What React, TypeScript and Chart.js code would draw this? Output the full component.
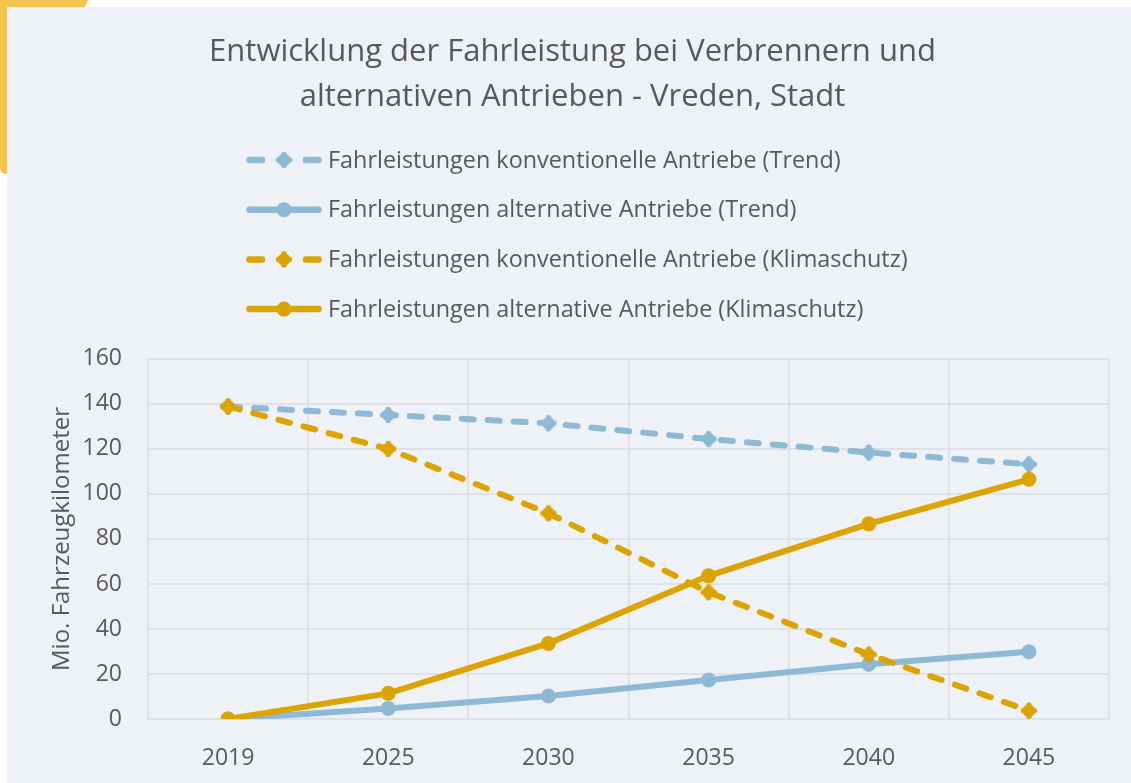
import React, { useEffect, useRef } from "react";
import { Chart, registerables } from "chart.js";

Chart.register(...registerables);

const years = ["2019", "2025", "2030", "2035", "2040", "2045"];
const trendConventional = [138.8, 135.1, 131.4, 124.4, 118.4, 113.2];
const trendAlternative = [0, 4.7, 10.2, 17.3, 24.3, 29.9];
const climateConventional = [138.9, 120.0, 91.4, 56.3, 28.7, 3.7];
const climateAlternative = [0, 11.4, 33.6, 63.6, 86.7, 106.5];

const seriesLabels = [
  "Fahrleistungen konventionelle Antriebe (Trend)",
  "Fahrleistungen alternative Antriebe (Trend)",
  "Fahrleistungen konventionelle Antriebe (Klimaschutz)",
  "Fahrleistungen alternative Antriebe (Klimaschutz)",
];
const titleLines = [
  "Entwicklung der Fahrleistung bei Verbrennern und",
  "alternativen Antrieben - Vreden, Stadt",
];
const yAxisTitle = "Mio. Fahrzeugkilometer";
const yMin = 0;
const yMax = 160;
const yStep = 20;

const BLUE = "#8db9d5";
const GOLD = "#dba400";
const TEXT = "#595959";
const GRID = "#dfe1e4";
const PANEL = "#eef1f5";
const FONT = "'Open Sans', 'Noto Sans', sans-serif";

function makePlus(color: string): HTMLCanvasElement {
  const c = document.createElement("canvas");
  c.width = 18;
  c.height = 18;
  const g = c.getContext("2d")!;
  g.strokeStyle = color;
  g.fillStyle = color;
  g.lineWidth = 5.5;
  g.lineCap = "round";
  g.beginPath();
  g.moveTo(9, 3.5);
  g.lineTo(9, 14.5);
  g.moveTo(3.5, 9);
  g.lineTo(14.5, 9);
  g.stroke();
  g.beginPath();
  g.arc(9, 9, 6.3, 0, Math.PI * 2);
  g.fill();
  return c;
}

const legendPlugin = {
  id: "stackedLegend",
  afterDraw(chart: any) {
    const ctx = chart.ctx;
    const x0 = 239;
    const sampleW = 76;
    const top = 153;
    const rowGap = 49.7;
    chart.data.datasets.forEach((ds: any, i: number) => {
      const y = top + i * rowGap;
      ctx.save();
      ctx.strokeStyle = ds.borderColor;
      ctx.fillStyle = ds.borderColor;
      ctx.lineWidth = 6.5;
      ctx.lineCap = "round";
      ctx.beginPath();
      if (ds.borderDash && ds.borderDash.length) {
        ctx.moveTo(x0 + 3.5, y);
        ctx.lineTo(x0 + 16, y);
        ctx.moveTo(x0 + 60, y);
        ctx.lineTo(x0 + sampleW - 3.5, y);
      } else {
        ctx.moveTo(x0 + 3.5, y);
        ctx.lineTo(x0 + sampleW - 3.5, y);
      }
      ctx.stroke();
      const cx = x0 + sampleW / 2;
      if (ds.pointStyle === "circle") {
        ctx.beginPath();
        ctx.arc(cx, y, 7.5, 0, Math.PI * 2);
        ctx.fill();
      } else {
        ctx.drawImage(ds.pointStyle, cx - 9, y - 9);
      }
      ctx.fillStyle = TEXT;
      ctx.font = `23.4px ${FONT}`;
      ctx.textBaseline = "middle";
      ctx.textAlign = "left";
      ctx.fillText(ds.label, x0 + sampleW + 6, y + 1);
      ctx.restore();
    });
  },
};

export default function App() {
  const canvasRef = useRef<HTMLCanvasElement | null>(null);

  useEffect(() => {
    if (!canvasRef.current) return;
    const plusBlue = makePlus(BLUE);
    const plusGold = makePlus(GOLD);
    const dash = [12, 14];
    const lineW = 6;
    const chart = new Chart(canvasRef.current, {
      type: "line",
      data: {
        labels: years,
        datasets: [
          {
            label: seriesLabels[0],
            data: trendConventional,
            borderColor: BLUE,
            backgroundColor: BLUE,
            borderWidth: lineW,
            borderDash: dash,
            borderCapStyle: "round",
            pointStyle: plusBlue as any,
            pointRadius: 9,
            order: 4,
          },
          {
            label: seriesLabels[1],
            data: trendAlternative,
            borderColor: BLUE,
            backgroundColor: BLUE,
            borderWidth: lineW,
            borderCapStyle: "round",
            pointStyle: "circle",
            pointRadius: 7.5,
            pointBorderWidth: 0,
            order: 3,
          },
          {
            label: seriesLabels[2],
            data: climateConventional,
            borderColor: GOLD,
            backgroundColor: GOLD,
            borderWidth: lineW,
            borderDash: dash,
            borderCapStyle: "round",
            pointStyle: plusGold as any,
            pointRadius: 9,
            order: 2,
          },
          {
            label: seriesLabels[3],
            data: climateAlternative,
            borderColor: GOLD,
            backgroundColor: GOLD,
            borderWidth: lineW,
            borderCapStyle: "round",
            pointStyle: "circle",
            pointRadius: 7.5,
            pointBorderWidth: 0,
            order: 1,
          },
        ],
      },
      options: {
        animation: false,
        responsive: false,
        layout: { padding: { left: 29, right: 29, top: 0, bottom: 15 } },
        plugins: {
          legend: { display: false },
          tooltip: { enabled: false },
          title: {
            display: true,
            text: titleLines,
            color: TEXT,
            font: { family: FONT, size: 31, weight: "normal", lineHeight: 1.45 },
            padding: { top: 23, bottom: 239 },
          },
        },
        scales: {
          x: {
            offset: true,
            grid: { color: GRID, lineWidth: 2, offset: true, drawTicks: false },
            border: { color: GRID, width: 2 },
            ticks: { color: TEXT, padding: 26, font: { family: FONT, size: 23 } },
            afterFit: (scale: any) => {
              scale.height = 49;
            },
          },
          y: {
            min: yMin,
            max: yMax,
            grid: { color: GRID, lineWidth: 2, drawTicks: false },
            border: { color: GRID, width: 2 },
            ticks: {
              stepSize: yStep,
              color: TEXT,
              padding: 26,
              font: { family: FONT, size: 23 },
            },
            title: {
              display: true,
              text: yAxisTitle,
              color: TEXT,
              font: { family: FONT, size: 24 },
              padding: { top: 11.6, bottom: 0 },
            },
            afterFit: (scale: any) => {
              scale.width = 112;
            },
          },
        },
      },
      plugins: [legendPlugin],
    });
    return () => chart.destroy();
  }, []);

  return (
    <div style={{ position: "fixed", left: 0, top: 0, width: 1131, height: 783, background: "#ffffff", overflow: "hidden" }}>
      <div
        style={{
          position: "absolute",
          left: 0,
          top: 0,
          width: 88,
          height: 174,
          background: "#f3c34a",
          borderBottomLeftRadius: 6,
          clipPath: "polygon(0 0, 88px 0, 14px 174px, 0 174px)",
        }}
      />
      <div style={{ position: "absolute", left: 7, top: 7, width: 1124, height: 776, background: PANEL, overflow: "hidden" }}>
        <canvas ref={canvasRef} width={1131} height={776} style={{ display: "block" }} />
      </div>
    </div>
  );
}
